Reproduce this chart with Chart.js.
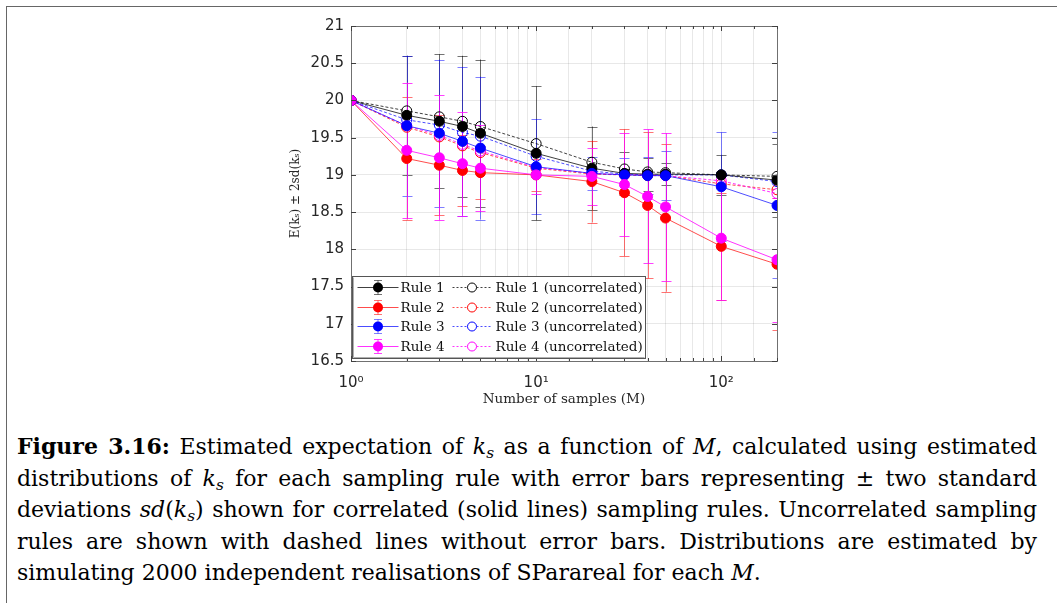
<!DOCTYPE html>
<html>
<head>
<meta charset="utf-8">
<script src="https://cdn.jsdelivr.net/npm/chart.js@4"></script>
<style>
  body { margin: 0; background: #fff; width: 1057px; height: 603px; overflow: hidden; position: relative; }
  #frame { position: absolute; left: 6px; top: 6px; width: 1050px; height: 600px; border-left: 1px solid #666; border-top: 1px solid #666; }
  #chartBox { position: absolute; left: 270px; top: 10px; width: 520px; height: 400px; }
  #caption { position: absolute; left: 17px; top: 431px; width: 1020px; font-family: 'DejaVu Serif', serif; font-size: 22px; color: #000; }
  .ln { height: 31.5px; line-height: 31.5px; white-space: nowrap; text-align: justify; text-align-last: justify; }
  .ln.last { text-align-last: left; }
  sub { font-size: 0.7em; vertical-align: -0.25em; line-height: 0; font-style: italic; }
</style>
</head>
<body>
<div id="frame"></div>
<div id="chartBox"><canvas id="chart" width="520" height="400"></canvas></div>
<div id="caption">
  <div class="ln"><b>Figure 3.16:</b> Estimated expectation of <i>k</i><sub>s</sub> as a function of <i>M</i>, calculated using estimated</div>
  <div class="ln">distributions of <i>k</i><sub>s</sub> for each sampling rule with error bars representing ± two standard</div>
  <div class="ln">deviations <i>sd</i>(<i>k</i><sub>s</sub>) shown for correlated (solid lines) sampling rules. Uncorrelated sampling</div>
  <div class="ln">rules are shown with dashed lines without error bars. Distributions are estimated by</div>
  <div class="ln last">simulating 2000 independent realisations of SParareal for each <i>M</i>.</div>
</div>
<script>
// Number of samples (x axis)
const M = [1, 2, 3, 4, 5, 10, 20, 30, 40, 50, 100, 200];

// Correlated rules: mean and 2*sd
const rule1 = [20, 19.80, 19.72, 19.65, 19.56, 19.29, 19.09, 19.02, 19.01, 19.01, 19.00, 18.93];
const rule1Err = [0, 0.80, 0.90, 0.95, 0.99, 0.90, 0.56, 0.29, 0.22, 0.15, 0.27, 0.49];
const rule2 = [20, 19.22, 19.13, 19.06, 19.03, 19.00, 18.91, 18.76, 18.59, 18.42, 18.04, 17.80];
const rule2Err = [0, 0.82, 0.67, 0.48, 0.36, 0.21, 0.55, 0.85, 0.98, 0.99, 0.72, 0.89];
const rule3 = [20, 19.66, 19.56, 19.45, 19.36, 19.11, 19.02, 19.00, 18.99, 18.99, 18.84, 18.59];
const rule3Err = [0, 0.94, 0.99, 1.00, 0.96, 0.64, 0.22, 0.23, 0.25, 0.33, 0.73, 0.98];
const rule4 = [20, 19.33, 19.23, 19.15, 19.09, 19.00, 18.98, 18.87, 18.71, 18.57, 18.15, 17.86];
const rule4Err = [0, 0.91, 0.84, 0.70, 0.58, 0.25, 0.38, 0.69, 0.90, 0.99, 0.83, 0.83];

// Uncorrelated rules (no error bars)
const unc1 = [20, 19.86, 19.78, 19.72, 19.65, 19.42, 19.17, 19.08, 19.04, 19.03, 19.00, 18.98];
const unc2 = [20, 19.64, 19.51, 19.39, 19.30, 19.09, 19.01, 19.00, 18.99, 18.99, 18.88, 18.80];
const unc3 = [20, 19.74, 19.67, 19.57, 19.52, 19.25, 19.05, 19.01, 19.00, 19.00, 19.00, 18.91];
const unc4 = [20, 19.66, 19.53, 19.41, 19.32, 19.10, 19.02, 19.00, 19.00, 18.99, 18.92, 18.75];

const yTicks = [16.5, 17, 17.5, 18, 18.5, 19, 19.5, 20, 20.5, 21];

const rules = [
    { name: 'Rule 1', mean: rule1, err: rule1Err, unc: unc1, color: '#000000', line: 'rgba(0,0,0,0.75)', bar: 'rgba(0,0,0,0.55)' },
    { name: 'Rule 2', mean: rule2, err: rule2Err, unc: unc2, color: '#ff0000', line: 'rgba(255,0,0,0.7)', bar: 'rgba(255,0,0,0.55)' },
    { name: 'Rule 3', mean: rule3, err: rule3Err, unc: unc3, color: '#0000ff', line: 'rgba(0,0,255,0.7)', bar: 'rgba(0,0,255,0.5)' },
    { name: 'Rule 4', mean: rule4, err: rule4Err, unc: unc4, color: '#ff00ff', line: 'rgba(255,0,255,0.8)', bar: 'rgba(255,0,255,0.75)' }
];

function toPoints(arr) {
    return M.map((m, i) => ({ x: m, y: arr[i] }));
}

const datasets = [];
rules.forEach((r, k) => {
    datasets.push({
        label: r.name,
        data: toPoints(r.mean),
        borderColor: r.line,
        backgroundColor: r.color,
        pointBackgroundColor: r.color,
        pointBorderColor: r.color,
        pointRadius: 5,
        borderWidth: 1,
        tension: 0,
        order: 10 - k,
        errors: r.err,
        barColor: r.bar
    });
});
rules.forEach((r, k) => {
    datasets.push({
        label: r.name + ' (uncorrelated)',
        data: toPoints(r.unc),
        borderColor: r.line,
        backgroundColor: 'transparent',
        pointBackgroundColor: 'transparent',
        pointBorderColor: r.color,
        pointBorderWidth: 1,
        pointRadius: 5,
        borderWidth: 1,
        borderDash: [3, 2],
        tension: 0,
        order: 20 - k
    });
});

// Error bars drawn under the markers
const errorBars = {
    id: 'errorBars',
    beforeDatasetsDraw(chart) {
        const ctx = chart.ctx;
        const xs = chart.scales.x, ys = chart.scales.y;
        const area = chart.chartArea;
        ctx.save();
        ctx.beginPath();
        ctx.rect(area.left, area.top, area.right - area.left, area.bottom - area.top);
        ctx.clip();
        ctx.lineWidth = 1;
        chart.data.datasets.forEach(ds => {
            if (!ds.errors) return;
            ctx.strokeStyle = ds.barColor;
            ds.data.forEach((p, i) => {
                const e = ds.errors[i];
                if (!e) return;
                const x = Math.round(xs.getPixelForValue(p.x)) + 0.5;
                const y1 = ys.getPixelForValue(p.y + e);
                const y2 = ys.getPixelForValue(p.y - e);
                ctx.beginPath();
                ctx.moveTo(x, y1); ctx.lineTo(x, y2);
                ctx.moveTo(x - 5, Math.round(y1) + 0.5); ctx.lineTo(x + 5, Math.round(y1) + 0.5);
                ctx.moveTo(x - 5, Math.round(y2) + 0.5); ctx.lineTo(x + 5, Math.round(y2) + 0.5);
                ctx.stroke();
            });
        });
        ctx.restore();
    }
};

// Box around the plot with inward ticks, and the legend inside the plot
const frameAndLegend = {
    id: 'frameAndLegend',
    afterDraw(chart) {
        const ctx = chart.ctx;
        const a = chart.chartArea;
        const xs = chart.scales.x, ys = chart.scales.y;
        ctx.save();
        ctx.strokeStyle = '#707070';
        ctx.lineWidth = 1;
        ctx.strokeRect(Math.round(a.left) + 0.5, Math.round(a.top) + 0.5, Math.round(a.right - a.left), Math.round(a.bottom - a.top));
        ctx.strokeStyle = '#404040';
        ctx.beginPath();
        ys.ticks.forEach(t => {
            const y = Math.round(ys.getPixelForValue(t.value)) + 0.5;
            ctx.moveTo(a.left, y); ctx.lineTo(a.left + 5, y);
            ctx.moveTo(a.right, y); ctx.lineTo(a.right - 5, y);
        });
        xs.ticks.forEach(t => {
            const x = Math.round(xs.getPixelForValue(t.value)) + 0.5;
            const major = Math.abs(Math.log10(t.value) - Math.round(Math.log10(t.value))) < 1e-9;
            const len = major ? 5 : 3;
            ctx.moveTo(x, a.bottom); ctx.lineTo(x, a.bottom - len);
            ctx.moveTo(x, a.top); ctx.lineTo(x, a.top + len);
        });
        ctx.stroke();

        // legend
        const bx = Math.round(a.left) + 1.5, by = Math.round(a.bottom) - 84.5;
        const bw = 293, bh = 82;
        ctx.fillStyle = '#ffffff';
        ctx.fillRect(bx, by, bw, bh);
        ctx.strokeStyle = '#555555';
        ctx.strokeRect(bx, by, bw, bh);
        ctx.strokeStyle = '#b0b0b0';
        ctx.beginPath();
        ctx.moveTo(bx + 1, by + 1); ctx.lineTo(bx + 1, by + bh - 1); ctx.lineTo(bx + bw - 1, by + bh - 1);
        ctx.stroke();
        ctx.font = '13.5px "DejaVu Serif", serif';
        ctx.textBaseline = 'middle';
        ctx.textAlign = 'left';
        rules.forEach((r, k) => {
            const y = Math.round(by + 10.5 + k * 19.5) + 0.5;
            // correlated entry
            ctx.strokeStyle = r.line;
            ctx.setLineDash([]);
            ctx.beginPath();
            ctx.moveTo(bx + 5, y); ctx.lineTo(bx + 46, y);
            ctx.stroke();
            ctx.strokeStyle = r.bar;
            const cx = bx + 25.5;
            ctx.beginPath();
            ctx.moveTo(cx, y - 7); ctx.lineTo(cx, y + 7);
            ctx.moveTo(cx - 4, y - 7); ctx.lineTo(cx + 4, y - 7);
            ctx.moveTo(cx - 4, y + 7); ctx.lineTo(cx + 4, y + 7);
            ctx.stroke();
            ctx.fillStyle = r.color;
            ctx.beginPath();
            ctx.arc(cx, y, 5, 0, Math.PI * 2);
            ctx.fill();
            ctx.fillStyle = '#111';
            ctx.fillText(r.name, bx + 48, y + 1);
            // uncorrelated entry
            ctx.strokeStyle = r.line;
            ctx.setLineDash([2, 2]);
            ctx.beginPath();
            ctx.moveTo(bx + 100, y); ctx.lineTo(bx + 140, y);
            ctx.stroke();
            ctx.setLineDash([]);
            ctx.strokeStyle = r.color;
            ctx.fillStyle = '#fff';
            ctx.beginPath();
            ctx.arc(bx + 119.5, y, 4.5, 0, Math.PI * 2);
            ctx.fill();
            ctx.stroke();
            ctx.fillStyle = '#111';
            ctx.fillText(r.name + ' (uncorrelated)', bx + 143, y + 1);
        });
        ctx.restore();
    }
};

const supers = { 1: '10\u2070', 10: '10\u00b9', 100: '10\u00b2' };

new Chart(document.getElementById('chart').getContext('2d'), {
    type: 'line',
    data: { datasets: datasets },
    options: {
        responsive: false,
        animation: false,
        devicePixelRatio: 1,
        layout: { padding: { top: 16, right: 11, left: 0, bottom: 0 } },
        plugins: { legend: { display: false }, tooltip: { enabled: false } },
        scales: {
            x: {
                type: 'logarithmic',
                min: 1,
                max: 200,
                grid: { color: 'rgba(0,0,0,0.09)', drawTicks: false },
                border: { display: false },
                ticks: {
                    autoSkip: false,
                    maxRotation: 0,
                    padding: 13,
                    color: '#262626',
                    font: { family: 'DejaVu Sans', size: 15 },
                    callback: v => supers[v] || ''
                },
                title: {
                    display: true,
                    text: 'Number of samples (M)',
                    color: '#262626',
                    font: { family: 'DejaVu Serif', size: 13.5 },
                    padding: { top: 0, bottom: 2 }
                },
                afterFit: s => { s.height = 49; }
            },
            y: {
                min: 16.5,
                max: 21,
                grid: { color: 'rgba(0,0,0,0.09)', drawTicks: false },
                border: { display: false },
                afterBuildTicks: s => { s.ticks = yTicks.map(v => ({ value: v })); },
                ticks: {
                    padding: 7,
                    color: '#262626',
                    font: { family: 'DejaVu Sans', size: 15 },
                    callback: v => String(v)
                },
                title: {
                    display: true,
                    text: 'E(k\u209b) \u00b1 2sd(k\u209b)',
                    color: '#262626',
                    font: { family: 'DejaVu Serif', size: 12 },
                    padding: { top: 19, bottom: 0 }
                },
                afterFit: s => { s.width = 81; }
            }
        }
    },
    plugins: [errorBars, frameAndLegend]
});
</script>
</body>
</html>
